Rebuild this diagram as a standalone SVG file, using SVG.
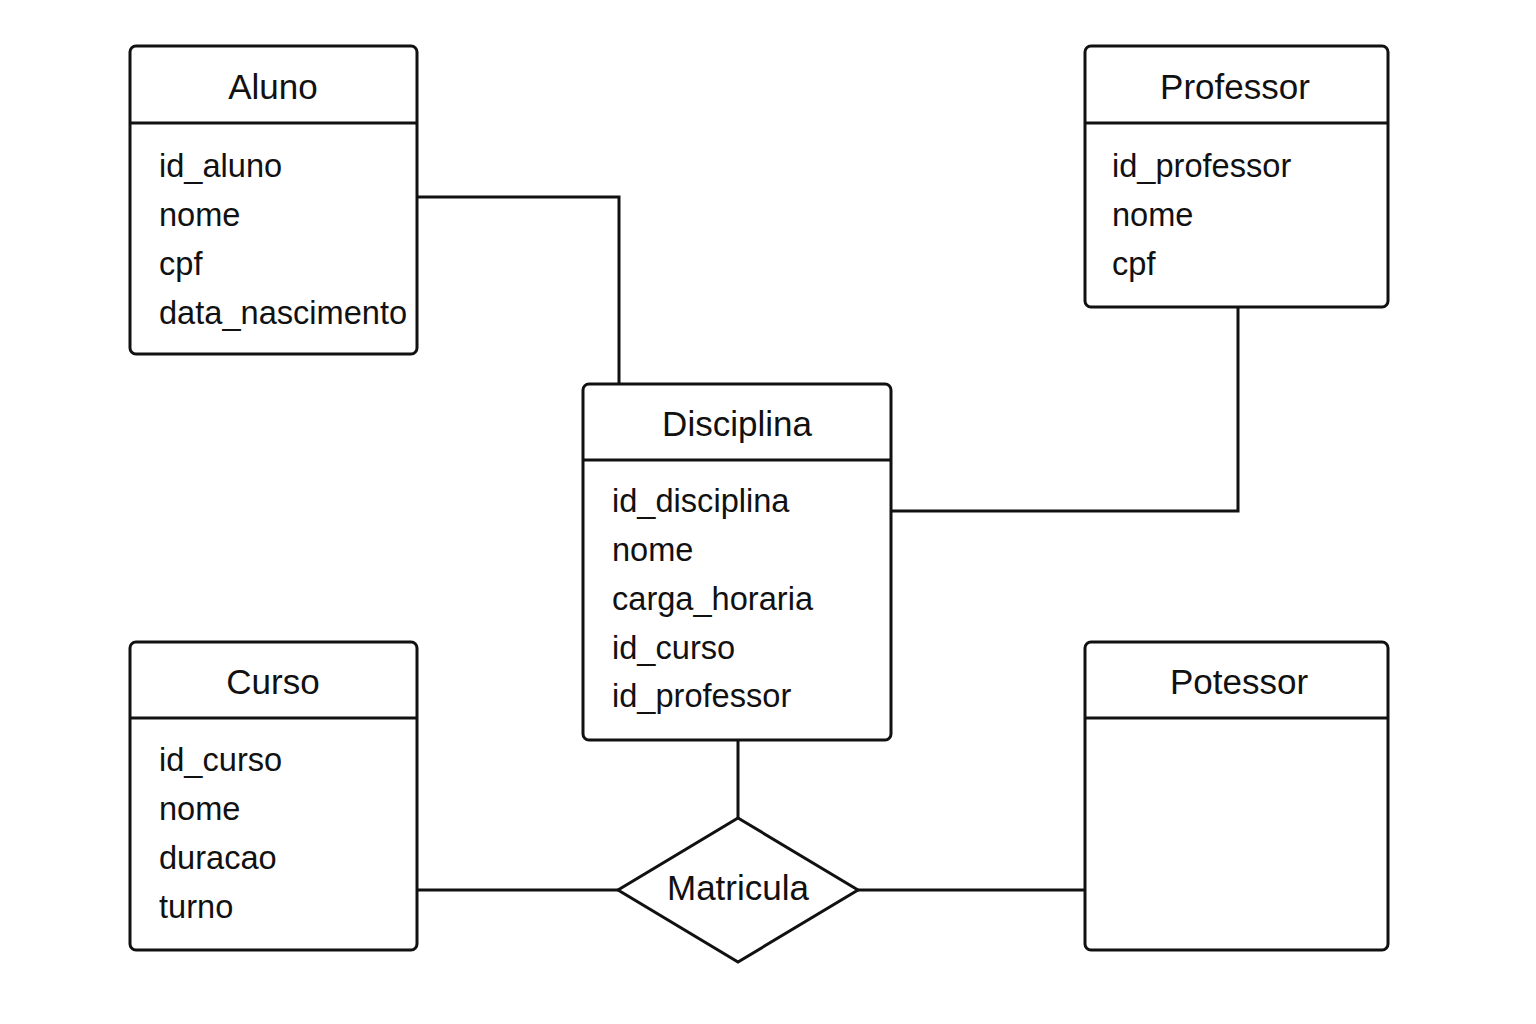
<svg xmlns="http://www.w3.org/2000/svg" width="1536" height="1024" viewBox="0 0 1536 1024">
<style>
.box{fill:#fff;stroke:#111;stroke-width:3}
.sep{stroke:#111;stroke-width:3}
.con{fill:none;stroke:#111;stroke-width:3}
.t{font-family:"Liberation Sans",Arial,sans-serif;font-size:35px;fill:#111;text-anchor:middle}
.a{font-family:"Liberation Sans",Arial,sans-serif;font-size:32.6px;fill:#111}
</style>
<rect width="1536" height="1024" fill="#fff"/>
<g id="connectors">
<polyline class="con" points="417,197 619,197 619,384"/>
<polyline class="con" points="1238,307 1238,511 891,511"/>
<line class="con" x1="738" y1="740" x2="738" y2="818"/>
<line class="con" x1="417" y1="890" x2="618" y2="890"/>
<line class="con" x1="858" y1="890" x2="1085" y2="890"/>
</g>
<g id="aluno">
<rect class="box" x="130" y="46" width="287" height="308" rx="6"/>
<line class="sep" x1="130" y1="123" x2="417" y2="123"/>
<text class="t" x="273" y="99">Aluno</text>
<text class="a" x="159" y="177">id_aluno</text>
<text class="a" x="159" y="226">nome</text>
<text class="a" x="159" y="275">cpf</text>
<text class="a" x="159" y="324">data_nascimento</text>
</g>
<g id="professor">
<rect class="box" x="1085" y="46" width="303" height="261" rx="6"/>
<line class="sep" x1="1085" y1="123" x2="1388" y2="123"/>
<text class="t" x="1235" y="99">Professor</text>
<text class="a" x="1112" y="177">id_professor</text>
<text class="a" x="1112" y="226">nome</text>
<text class="a" x="1112" y="275">cpf</text>
</g>
<g id="disciplina">
<rect class="box" x="583" y="384" width="308" height="356" rx="6"/>
<line class="sep" x1="583" y1="460" x2="891" y2="460"/>
<text class="t" x="737" y="436">Disciplina</text>
<text class="a" x="612" y="512">id_disciplina</text>
<text class="a" x="612" y="561">nome</text>
<text class="a" x="612" y="610">carga_horaria</text>
<text class="a" x="612" y="659">id_curso</text>
<text class="a" x="612" y="707">id_professor</text>
</g>
<g id="curso">
<rect class="box" x="130" y="642" width="287" height="308" rx="6"/>
<line class="sep" x1="130" y1="718" x2="417" y2="718"/>
<text class="t" x="273" y="694">Curso</text>
<text class="a" x="159" y="771">id_curso</text>
<text class="a" x="159" y="820">nome</text>
<text class="a" x="159" y="869">duracao</text>
<text class="a" x="159" y="918">turno</text>
</g>
<g id="potessor">
<rect class="box" x="1085" y="642" width="303" height="308" rx="6"/>
<line class="sep" x1="1085" y1="718" x2="1388" y2="718"/>
<text class="t" x="1239" y="694">Potessor</text>
</g>
<g id="matricula">
<polygon class="box" points="738,818 858,890 738,962 618,890"/>
<text class="t" x="738" y="900">Matricula</text>
</g>
</svg>
